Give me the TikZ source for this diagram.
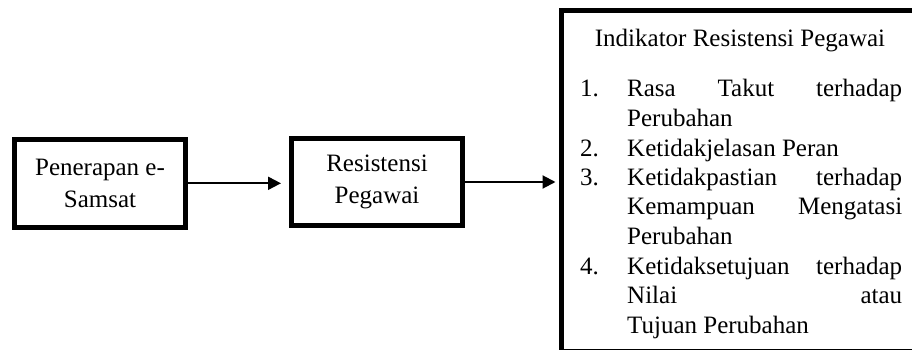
\documentclass[tikz,border=0pt]{standalone}
\usepackage{fontspec}
\setmainfont{Liberation Serif}
\usetikzlibrary{arrows.meta}

\begin{document}
\begin{tikzpicture}[x=1pt,y=-1pt]
	\tikzstyle{every node}=[font=\fontsize{25}{32}\selectfont]
	\tikzstyle{kotak}=[draw,line width=5pt,align=center,inner sep=0pt]
	\tikzstyle{panah}=[line width=2pt,-{Triangle[length=13pt,width=13pt]}]
	\useasboundingbox (0,0) rectangle (912,350);
	\clip (0,0) rectangle (912,350);
	\node[kotak,minimum width=171pt,minimum height=88pt] (penerapan) at (100,183.3) {Penerapan e-\\Samsat};
	\node[kotak,minimum width=171pt,minimum height=87pt] (resistensi) at (377,182) {Resistensi\\Pegawai};
	\node[kotak,minimum width=364pt,minimum height=340pt] (indikator) at (743,181) {};
	\node[anchor=base] (judul) at (740,47) {Indikator Resistensi Pegawai};
	\node[anchor=base west,inner sep=0pt,font=\fontsize{25}{29.5}\selectfont] (daftar) at (580,97) {%
		\begin{tabular}[t]{@{}p{47pt}@{}p{275pt}@{}}
		1. & Rasa \hfill Takut \hfill terhadap\\
		   & Perubahan\\
		2. & Ketidakjelasan Peran\\
		3. & Ketidakpastian \hfill terhadap\\
		   & Kemampuan \hfill Mengatasi\\
		   & Perubahan\\
		4. & Ketidaksetujuan \hfill terhadap\\
		   & Nilai \hfill atau\\
		   & Tujuan Perubahan
		\end{tabular}};
	\draw[panah,shorten >=8pt] (penerapan.east) -- (penerapan.east -| resistensi.west);
	\draw[panah,shorten >=3pt] (resistensi.east) -- (resistensi.east -| indikator.west);
\end{tikzpicture}
\end{document}
